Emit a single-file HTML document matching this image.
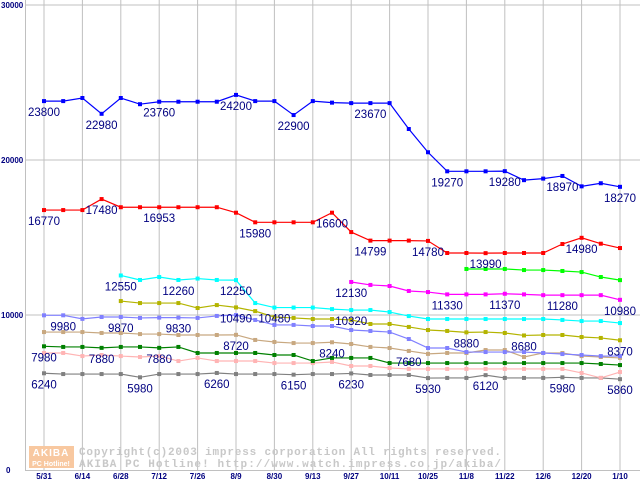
<!DOCTYPE html>
<html><head><meta charset="utf-8"><style>
body{margin:0;background:#fff;}
svg{display:block;font-family:"Liberation Sans",sans-serif;}
</style></head><body>
<svg id="chart" width="640" height="480" viewBox="0 0 640 480">
<g id="grid"></g>
<g id="watermark">
<rect x="29" y="446" width="45" height="22" fill="#f8c8a0"/>
<text x="51" y="456" font-size="10" font-weight="bold" fill="#fff" text-anchor="middle" letter-spacing="1">AKIBA</text>
<text x="51" y="466" font-size="7" font-weight="bold" fill="#fff" text-anchor="middle">PC Hotline!</text>
<text x="79" y="455" font-size="11" font-family="Liberation Mono, monospace" fill="#c8c8c8" font-weight="bold" textLength="422" lengthAdjust="spacing">Copyright(c)2003 impress corporation All rights reserved.</text>
<text x="79" y="467" font-size="11" font-family="Liberation Mono, monospace" fill="#c8c8c8" font-weight="bold" textLength="422" lengthAdjust="spacing">AKIBA PC Hotline!  http://www.watch.impress.co.jp/akiba/</text>
</g>
<g id="series"></g>
<g id="labels"></g>
</svg>
<script>
const xTickLabels = ["5/31","6/14","6/28","7/12","7/26","8/9","8/30","9/13","9/27","10/11","10/25","11/8","11/22","12/6","12/20","1/10"];
const yTicks = [0,10000,20000,30000];
const N = null;
const blue = [23800,23800,24000,22980,24000,23600,23760,23760,23760,23760,24200,23800,23800,22900,23800,23700,23670,23670,23670,22000,20500,19270,19270,19270,19280,18700,18800,18970,18300,18500,18270];
const red = [16770,16770,16770,17480,16953,16953,16953,16953,16953,16953,16600,15980,15980,15980,15980,16600,15350,14799,14799,14799,14780,14000,14000,13990,14000,14000,14000,14580,14980,14600,14320];
const green = [N,N,N,N,N,N,N,N,N,N,N,N,N,N,N,N,N,N,N,N,N,N,12970,12970,12970,12900,12900,12840,12770,12450,12250];
const magenta = [N,N,N,N,N,N,N,N,N,N,N,N,N,N,N,N,12130,11940,11870,11550,11480,11330,11330,11330,11370,11330,11280,11280,11280,11280,10980];
const cyan = [N,N,N,N,12550,12260,12450,12260,12350,12260,12250,10770,10480,10480,10480,10380,10320,10320,10190,9930,9740,9740,9740,9740,9740,9740,9740,9680,9610,9610,9480];
const olive = [N,N,N,N,10900,10770,10770,10770,10450,10640,10490,10250,9870,9810,9740,9740,9680,9420,9420,9230,9030,8970,8880,8900,8840,8680,8710,8710,8580,8520,8370];
const periwinkle = [9980,9980,9750,9870,9870,9810,9830,9830,9810,9940,10000,9680,9360,9360,9290,9290,9030,8970,8900,8450,7870,7870,7610,7610,7610,7610,7550,7480,7420,7350,7350];
const tan = [8900,8900,8900,8840,8840,8770,8770,8710,8710,8710,8720,8390,8260,8190,8190,8240,8130,7940,7870,7680,7490,7550,7550,7740,7740,7290,7550,7550,7350,7290,7230];
const darkgreen = [7980,7940,7940,7880,7940,7940,7880,7940,7550,7550,7550,7550,7420,7420,7030,7230,7230,7230,6900,6900,6900,6900,6900,6900,6900,6900,6900,6900,6900,6840,6770];
const pink = [7550,7550,7350,7420,7350,7290,7350,7030,7230,7030,7030,7030,6900,6900,6900,6970,6710,6710,6580,6520,6520,6520,6520,6520,6520,6520,6520,6520,6260,5940,6320];
const gray = [6240,6190,6190,6190,6190,5980,6190,6190,6190,6260,6190,6190,6190,6150,6190,6190,6230,6130,6130,6130,5930,5940,5940,6120,5940,5940,5940,5980,5940,5940,5860];
const seriesNames = ["gray","pink","darkgreen","tan","periwinkle","olive","cyan","magenta","green","red","blue"];
const labelSeries = ["blue","blue","blue","blue","blue","blue","blue","blue","blue","blue","red","red","red","red","red","red","red","red","red","magenta","magenta","magenta","magenta","magenta","cyan","cyan","cyan","cyan","cyan","olive","olive","olive","olive","periwinkle","periwinkle","periwinkle","tan","tan","tan","darkgreen","darkgreen","darkgreen","gray","gray","gray","gray","gray","gray","gray","gray","gray"];
const labelIndex = [0,3,6,10,13,17,21,24,27,30, 0,3,6,11,15,17,20,23,28, 16,21,24,27,30, 4,7,10,12,16, 10,22,25,30, 1,4,7, 10,15,19, 0,3,6, 0,5,9,13,16,20,23,27,30];

const data = {blue,red,green,magenta,cyan,olive,periwinkle,tan,darkgreen,pink,gray};
const colors = {blue:"#0000ff",red:"#ff0000",green:"#00ff00",magenta:"#ff00ff",cyan:"#00ffff",olive:"#b4b400",periwinkle:"#8080ff",tan:"#c8a880",darkgreen:"#008000",pink:"#ffb4b4",gray:"#808080"};
const NS="http://www.w3.org/2000/svg";
const x0=44, step=19.2, yBase=470, yTop=5, yMax=30000;
const xs=i=>x0+i*step;
const ys=v=>yBase-(v/yMax)*(yBase-yTop);
function mk(tag,attrs,parent){const e=document.createElementNS(NS,tag);for(const k in attrs)e.setAttribute(k,attrs[k]);parent.appendChild(e);return e;}
const grid=document.getElementById('grid');
yTicks.forEach(t=>{
  if(t>0){const l=mk('line',{x1:25,x2:640,y1:ys(t),y2:ys(t),stroke:"#c0c0c0","stroke-width":1},grid);
  
  }
  const tx=mk('text',{x:1,y:ys(t)+3,"font-size":8,"font-weight":"bold",fill:"#000080"},grid);
  
  
  tx.textContent=t===0?"0":String(t);
  if(t===0) tx.setAttribute('x',6);
});
xTickLabels.forEach((lab,k)=>{
  const x=xs(k*2);
  const l=mk('line',{x1:x,x2:x,y1:0,y2:yBase,stroke:"#c0c0c0","stroke-width":1},grid);
  
  
  const tx=mk('text',{x:x,y:479,"font-size":8,"font-weight":"bold",fill:"#000080","text-anchor":"middle"},grid);
  
  
  tx.textContent=lab;
});
const ya=mk('line',{x1:25.5,x2:25.5,y1:0,y2:yBase,stroke:"#c0c0c0","stroke-width":1},grid);


const xa=mk('line',{x1:25,x2:640,y1:yBase+0.5,y2:yBase+0.5,stroke:"#c0c0c0","stroke-width":1},grid);


const sg=document.getElementById('series');
seriesNames.forEach(name=>{
  const arr=data[name];const c=colors[name];
  const g=mk('g',{},sg);
  
  
  const pts=[];arr.forEach((v,i)=>{if(v!==null)pts.push(xs(i)+","+ys(v));});
  const pl=mk('polyline',{points:pts.join(" "),fill:"none",stroke:c,"stroke-width":1.2},g);
  
  
  arr.forEach((v,i)=>{if(v===null)return;
    const r=mk('rect',{x:xs(i)-2,y:ys(v)-2,width:4,height:4,fill:c},g);
    
    
  });
});
const lg=document.getElementById('labels');
labelSeries.forEach((s,k)=>{
  const i=labelIndex[k];const v=data[s][i];
  const t=mk('text',{x:xs(i),y:ys(v)+15,"font-size":11.5,fill:"#000080","text-anchor":"middle"},lg);
  
  
  t.textContent=String(v);
});
</script>
</body></html>
